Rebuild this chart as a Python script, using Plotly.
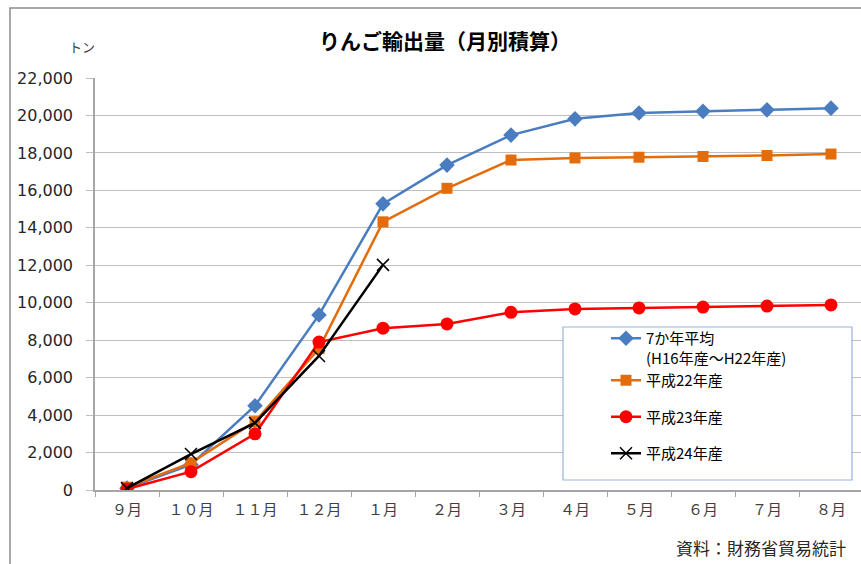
import plotly.graph_objects as go

months = ["９月", "１０月", "１１月", "１２月", "１月", "２月", "３月", "４月", "５月", "６月", "７月", "８月"]
avg7 = [100, 1350, 4500, 9350, 15280, 17350, 18950, 19820, 20130, 20220, 20300, 20390]
h22 = [150, 1450, 3650, 7550, 14320, 16110, 17620, 17730, 17770, 17810, 17860, 17940]
h23 = [50, 980, 3000, 7900, 8640, 8870, 9490, 9670, 9720, 9770, 9820, 9880]
h24 = [100, 1920, 3580, 7160, 12020]

names = ["7か年平均<br>(H16年産～H22年産)", "平成22年産", "平成23年産", "平成24年産"]

FONT = "Noto Sans CJK JP"

# plot area in pixels
L, R, T, B = 95, 861, 78, 490
W, H = R - L, B - T
def px(x): return (x - L) / W
def py(y): return (B - y) / H

fig = go.Figure()
fig.add_trace(go.Scatter(x=months, y=avg7, name=names[0], legendgroup="g1",
                         mode="lines+markers", line=dict(color="#4a7dc0", width=2.5),
                         marker=dict(symbol="diamond", size=12, color="#4a7dc0")))
fig.add_trace(go.Scatter(x=months, y=h22, name=names[1], legendgroup="g1",
                         mode="lines+markers", line=dict(color="#e46c0a", width=2.5),
                         marker=dict(symbol="square", size=11, color="#e46c0a")))
fig.add_trace(go.Scatter(x=months, y=h23, name=names[2], legendgroup="g2",
                         mode="lines+markers", line=dict(color="#ff0000", width=2.5),
                         marker=dict(symbol="circle", size=13, color="#ff0000")))
fig.add_trace(go.Scatter(x=months[:len(h24)], y=h24, name=names[3], legendgroup="g3",
                         mode="lines+markers", line=dict(color="#000000", width=2.5),
                         marker=dict(symbol="x-thin", size=12, color="#000000",
                                     line=dict(color="#000000", width=1.5))))

fig.update_layout(
    width=861, height=564,
    margin=dict(l=L, r=861 - R, t=T, b=564 - B),
    paper_bgcolor="white", plot_bgcolor="white",
    font=dict(family=FONT, color="#262626", size=14),
    showlegend=True,
    title=dict(text="<b>りんご輸出量（月別積算）</b>", x=445 / 861, xanchor="center",
               y=1 - 42 / 564, yanchor="middle", xref="container", yref="container",
               font=dict(family=FONT, size=21, color="#000000")),
    legend=dict(x=px(606), xanchor="left", y=py(322), yanchor="top",
                bgcolor="rgba(0,0,0,0)", borderwidth=0, valign="top",
                tracegroupgap=14, font=dict(family=FONT, size=15, color="#000000")),
    xaxis=dict(type="category", range=[-0.5, -0.5 + W / 64], tickson="boundaries",
               ticks="outside", ticklen=5, tickcolor="#a6a6a6",
               showline=True, linecolor="#a6a6a6", linewidth=1.5, showgrid=False,
               ticklabelstandoff=5,
               tickfont=dict(family=FONT, size=15, color="#404040"), fixedrange=True),
    yaxis=dict(range=[0, 22000], dtick=2000, tickformat=",", showgrid=True,
               gridcolor="#bfbfbf", gridwidth=1, showline=True, linecolor="#a6a6a6",
               linewidth=1.5, ticks="outside", ticklen=7, tickcolor="#bfbfbf",
               ticklabelstandoff=10, zeroline=False,
               tickfont=dict(family="DejaVu Sans", size=16, color="#262626")),
    shapes=[
        dict(type="rect", xref="paper", yref="paper", x0=px(563), x1=px(852),
             y0=py(480), y1=py(327), line=dict(color="#95b3d7", width=1.2),
             fillcolor="white", layer="above"),
        dict(type="path", xref="paper", yref="paper",
             path=f"M {px(10)} {py(566)} L {px(10)} {py(8)} L {px(863)} {py(8)}",
             line=dict(color="#8c8c8c", width=1.5)),
    ],
    annotations=[
        dict(text="トン", x=px(82), y=py(46), xref="paper", yref="paper",
             xanchor="center", yanchor="middle",
             showarrow=False, font=dict(family=FONT, size=13, color="#404040")),
        dict(text="資料：財務省貿易統計", x=px(848), y=py(547), xref="paper", yref="paper",
             xanchor="right", yanchor="middle", showarrow=False,
             font=dict(family=FONT, size=17, color="#262626")),
    ],
)

fig.write_html("out.html")
